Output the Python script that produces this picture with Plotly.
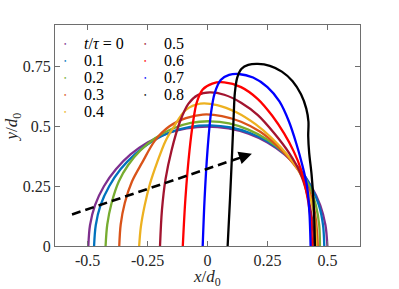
import plotly.graph_objects as go

# ---- data ----
times = ["0", "0.1", "0.2", "0.3", "0.4", "0.5", "0.6", "0.7", "0.8"]
legend_labels = ["<i>t</i>/<i>τ</i> = 0", "0.1", "0.2", "0.3", "0.4", "0.5", "0.6", "0.7", "0.8"]
colors = ["#7E2F8E", "#0072BD", "#77AC30", "#D95319", "#EDB120",
          "#A2142F", "#FF0000", "#0000FF", "#000000"]

x_t00 = [-0.497, -0.490, -0.469, -0.432, -0.382, -0.321, -0.25, -0.171, -0.087, 0.0, 0.087, 0.171, 0.25, 0.321, 0.383, 0.433, 0.47, 0.492, 0.5]
y_t00 = [0.0, 0.087, 0.171, 0.25, 0.321, 0.383, 0.433, 0.47, 0.492, 0.5, 0.492, 0.47, 0.433, 0.383, 0.321, 0.25, 0.171, 0.087, 0.0]

x_t01 = [-0.473, -0.466, -0.446, -0.41, -0.362, -0.302, -0.232, -0.155, -0.072, 0.012, 0.097, 0.18, 0.257, 0.326, 0.385, 0.432, 0.465, 0.482, 0.487]
y_t01 = [0.0, 0.087, 0.171, 0.25, 0.322, 0.385, 0.437, 0.476, 0.499, 0.505, 0.496, 0.472, 0.434, 0.383, 0.32, 0.248, 0.17, 0.086, 0.0]

x_t02 = [-0.425, -0.418, -0.40, -0.37, -0.33, -0.28, -0.22, -0.15, -0.07, 0.01, 0.09, 0.17, 0.25, 0.32, 0.38, 0.425, 0.452, 0.466, 0.469]
y_t02 = [0.0, 0.09, 0.18, 0.27, 0.34, 0.40, 0.45, 0.49, 0.515, 0.522, 0.513, 0.487, 0.445, 0.39, 0.325, 0.25, 0.17, 0.086, 0.0]

x_t03 = [-0.368, -0.362, -0.345, -0.315, -0.272, -0.22, -0.16, -0.09, -0.02, 0.06, 0.14, 0.22, 0.29, 0.35, 0.40, 0.435, 0.452, 0.46]
y_t03 = [0.0, 0.09, 0.18, 0.27, 0.35, 0.44, 0.50, 0.535, 0.55, 0.544, 0.52, 0.478, 0.42, 0.355, 0.285, 0.2, 0.11, 0.0]

x_t04 = [-0.285, -0.278, -0.262, -0.24, -0.21, -0.175, -0.14, -0.09, -0.03, 0.04, 0.12, 0.2, 0.27, 0.33, 0.38, 0.42, 0.445, 0.454]
y_t04 = [0.0, 0.08, 0.17, 0.26, 0.35, 0.44, 0.50, 0.57, 0.596, 0.59, 0.56, 0.51, 0.45, 0.385, 0.315, 0.23, 0.13, 0.0]

x_t05 = [-0.198, -0.19, -0.175, -0.15, -0.115, -0.08, -0.04, 0.01, 0.07, 0.14, 0.21, 0.28, 0.34, 0.385, 0.415, 0.435, 0.446]
y_t05 = [0.0, 0.15, 0.28, 0.40, 0.52, 0.595, 0.632, 0.643, 0.633, 0.6, 0.548, 0.47, 0.39, 0.31, 0.22, 0.12, 0.0]

x_t06 = [-0.103, -0.092, -0.075, -0.06, -0.045, -0.02, 0.02, 0.07, 0.14, 0.21, 0.27, 0.32, 0.36, 0.39, 0.41, 0.427, 0.437]
y_t06 = [0.0, 0.2, 0.40, 0.52, 0.60, 0.655, 0.68, 0.685, 0.665, 0.615, 0.545, 0.47, 0.395, 0.32, 0.24, 0.14, 0.0]

x_t07 = [-0.02, -0.012, 0.0, 0.015, 0.03, 0.055, 0.09, 0.13, 0.19, 0.25, 0.3, 0.34, 0.37, 0.395, 0.415, 0.425, 0.43]
y_t07 = [0.0, 0.2, 0.40, 0.56, 0.64, 0.695, 0.716, 0.72, 0.705, 0.665, 0.605, 0.52, 0.43, 0.34, 0.25, 0.14, 0.0]

x_t08 = [0.084, 0.094, 0.103, 0.109, 0.114, 0.124, 0.142, 0.17, 0.21, 0.26, 0.31, 0.355, 0.39, 0.412, 0.421, 0.42, 0.424, 0.434, 0.442, 0.446, 0.448]
y_t08 = [0.0, 0.2, 0.4, 0.54, 0.64, 0.705, 0.742, 0.758, 0.762, 0.754, 0.73, 0.69, 0.635, 0.575, 0.52, 0.46, 0.39, 0.3, 0.19, 0.09, 0.0]

xs = [x_t00, x_t01, x_t02, x_t03, x_t04, x_t05, x_t06, x_t07, x_t08]
ys = [y_t00, y_t01, y_t02, y_t03, y_t04, y_t05, y_t06, y_t07, y_t08]

arrow_start = (-0.565, 0.132)
arrow_end = (0.185, 0.386)

x_ticks = [-0.5, -0.25, 0, 0.25, 0.5]
x_ticklabels = ["-0.5", "-0.25", "0", "0.25", "0.5"]
y_ticks = [0, 0.25, 0.5, 0.75]
y_ticklabels = ["0", "0.25", "0.5", "0.75"]
x_title = "<i>x</i>/<i>d</i><sub>0</sub>"
y_title = "<i>y</i>/<i>d</i><sub>0</sub>"

FONT = "Liberation Serif, Times New Roman, serif"

fig = go.Figure()

for i, c in enumerate(colors):
    fig.add_trace(go.Scatter(x=xs[i], y=ys[i], mode="lines", name=legend_labels[i],
                             line=dict(color=c, width=2.3, shape="spline", smoothing=0.9),
                             showlegend=False, hoverinfo="skip"))

# dashed arrow
fig.add_trace(go.Scatter(x=[arrow_start[0], arrow_end[0] - 0.02],
                         y=[arrow_start[1], arrow_end[1] - 0.0068],
                         mode="lines", line=dict(color="black", width=2.6, dash="9px,5px"),
                         showlegend=False, hoverinfo="skip"))
fig.add_annotation(x=arrow_end[0], y=arrow_end[1], ax=arrow_end[0] - 0.06, ay=arrow_end[1] - 0.0203,
                   xref="x", yref="y", axref="x", ayref="y", showarrow=True,
                   arrowhead=2, arrowsize=1.3, arrowwidth=2, arrowcolor="black", text="")

# legend (two columns, drawn as annotations in paper coordinates)
leg_cols_marker = [0.036, 0.298]
leg_cols_text = [0.0885, 0.351]
leg_rows = [0.917, 0.838, 0.762, 0.684, 0.608]
for i, (lab, c) in enumerate(zip(legend_labels, colors)):
    col, row = divmod(i, 5)
    fig.add_annotation(x=leg_cols_marker[col], y=leg_rows[row], xref="paper", yref="paper",
                       text="●", showarrow=False, font=dict(size=4, color=c),
                       xanchor="center", yanchor="middle")
    fig.add_annotation(x=leg_cols_text[col], y=leg_rows[row], xref="paper", yref="paper",
                       text=lab, showarrow=False, font=dict(family=FONT, size=16, color="#000000"),
                       xanchor="left", yanchor="middle")

# axis titles
fig.add_annotation(x=0.498, y=-0.146, xref="paper", yref="paper", text=x_title, showarrow=False,
                   font=dict(family=FONT, size=17, color="#262626"), xanchor="center", yanchor="middle")
fig.add_annotation(x=-0.138, y=0.54, xref="paper", yref="paper", text=y_title, showarrow=False,
                   textangle=-90, font=dict(family=FONT, size=17, color="#262626"),
                   xanchor="center", yanchor="middle")

axis_common = dict(showline=True, linecolor="#6e6e6e", linewidth=1, mirror="ticks",
                   ticks="inside", ticklen=5, tickcolor="#6e6e6e", showgrid=False,
                   zeroline=False, automargin=False,
                   tickfont=dict(family=FONT, size=16, color="#262626"))

fig.update_xaxes(range=[-0.636, 0.636], tickvals=x_ticks, ticktext=x_ticklabels, **axis_common)
fig.update_yaxes(range=[0, 0.925], tickvals=y_ticks, ticktext=y_ticklabels, **axis_common)

fig.update_layout(
    width=399, height=289,
    margin=dict(l=55, r=39, t=25, b=43),
    plot_bgcolor="white", paper_bgcolor="white",
    showlegend=False,
)

fig.write_html("out.html", config={"displayModeBar": False},
               post_script="document.body.style.margin='0';")
